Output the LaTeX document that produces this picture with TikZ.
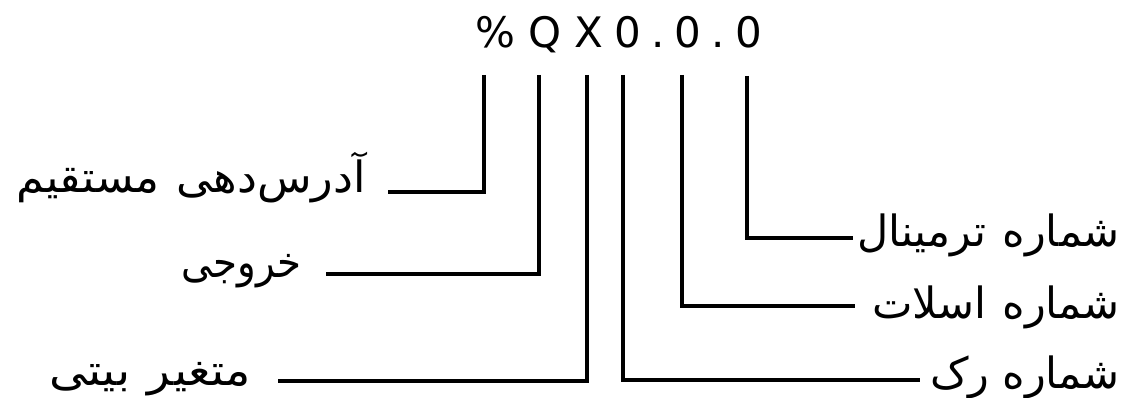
\documentclass[tikz,border=0pt]{standalone}
\usepackage{fontspec}
\setmainfont{DejaVu Sans}
\newfontfamily\arabicfont[Script=Arabic]{DejaVu Sans}
\TeXXeTstate=1
\tikzset{
  lead/.style={line width=3.6pt, line join=miter},
  lbl/.style={font=\arabicfont\fontsize{43}{50}\selectfont, inner sep=0pt},
  code/.style={font=\fontsize{42}{50}\selectfont, inner sep=0pt}
}
\begin{document}
\begin{tikzpicture}[x=1pt,y=-1pt]
\useasboundingbox (0,0) rectangle (1134,398);
\node[code, anchor=base west] (code) at (475,48)
  {\%\hspace{13pt}Q\hspace{13.5pt}X\hspace{10.8pt}0\hspace{10.4pt}.\hspace{9.5pt}0\hspace{10.4pt}.\hspace{10.5pt}0};
\coordinate (a1) at (484,75);  \coordinate (e1) at (388,192);
\coordinate (a2) at (539,75);  \coordinate (e2) at (326,274);
\coordinate (a3) at (587,75);  \coordinate (e3) at (278,381);
\coordinate (a4) at (623,75);  \coordinate (e4) at (920,380);
\coordinate (a5) at (682,75);  \coordinate (e5) at (855,306);
\coordinate (a6) at (747,76);  \coordinate (e6) at (853,238);
\draw[lead] (a1) |- (e1);
\draw[lead] (a2) |- (e2);
\draw[lead] (a3) |- (e3);
\draw[lead] (a4) |- (e4);
\draw[lead] (a5) |- (e5);
\draw[lead] (a6) |- (e6);
\node[lbl, anchor=base east] (l1) at (366,193) {\scalebox{1.04}[1]{\beginR آدرس‌دهی\hspace{16pt}مستقیم\endR}};
\node[lbl, anchor=base east] (l2) at (302,277) {\scalebox{0.9}[1]{\beginR خروجی\endR}};
\node[lbl, anchor=base east] (l3) at (251,385) {\scalebox{1.1}[1]{\beginR متغیر\hspace{16pt}بیتی\endR}};
\node[lbl, anchor=base east] (l4) at (1120,246) {\beginR شماره\hspace{16pt}ترمینال\endR};
\node[lbl, anchor=base east] (l5) at (1120,318) {\beginR شماره\hspace{16pt}اسلات\endR};
\node[lbl, anchor=base east] (l6) at (1120,388) {\beginR شماره\hspace{13pt}رک\endR};
\end{tikzpicture}
\end{document}
